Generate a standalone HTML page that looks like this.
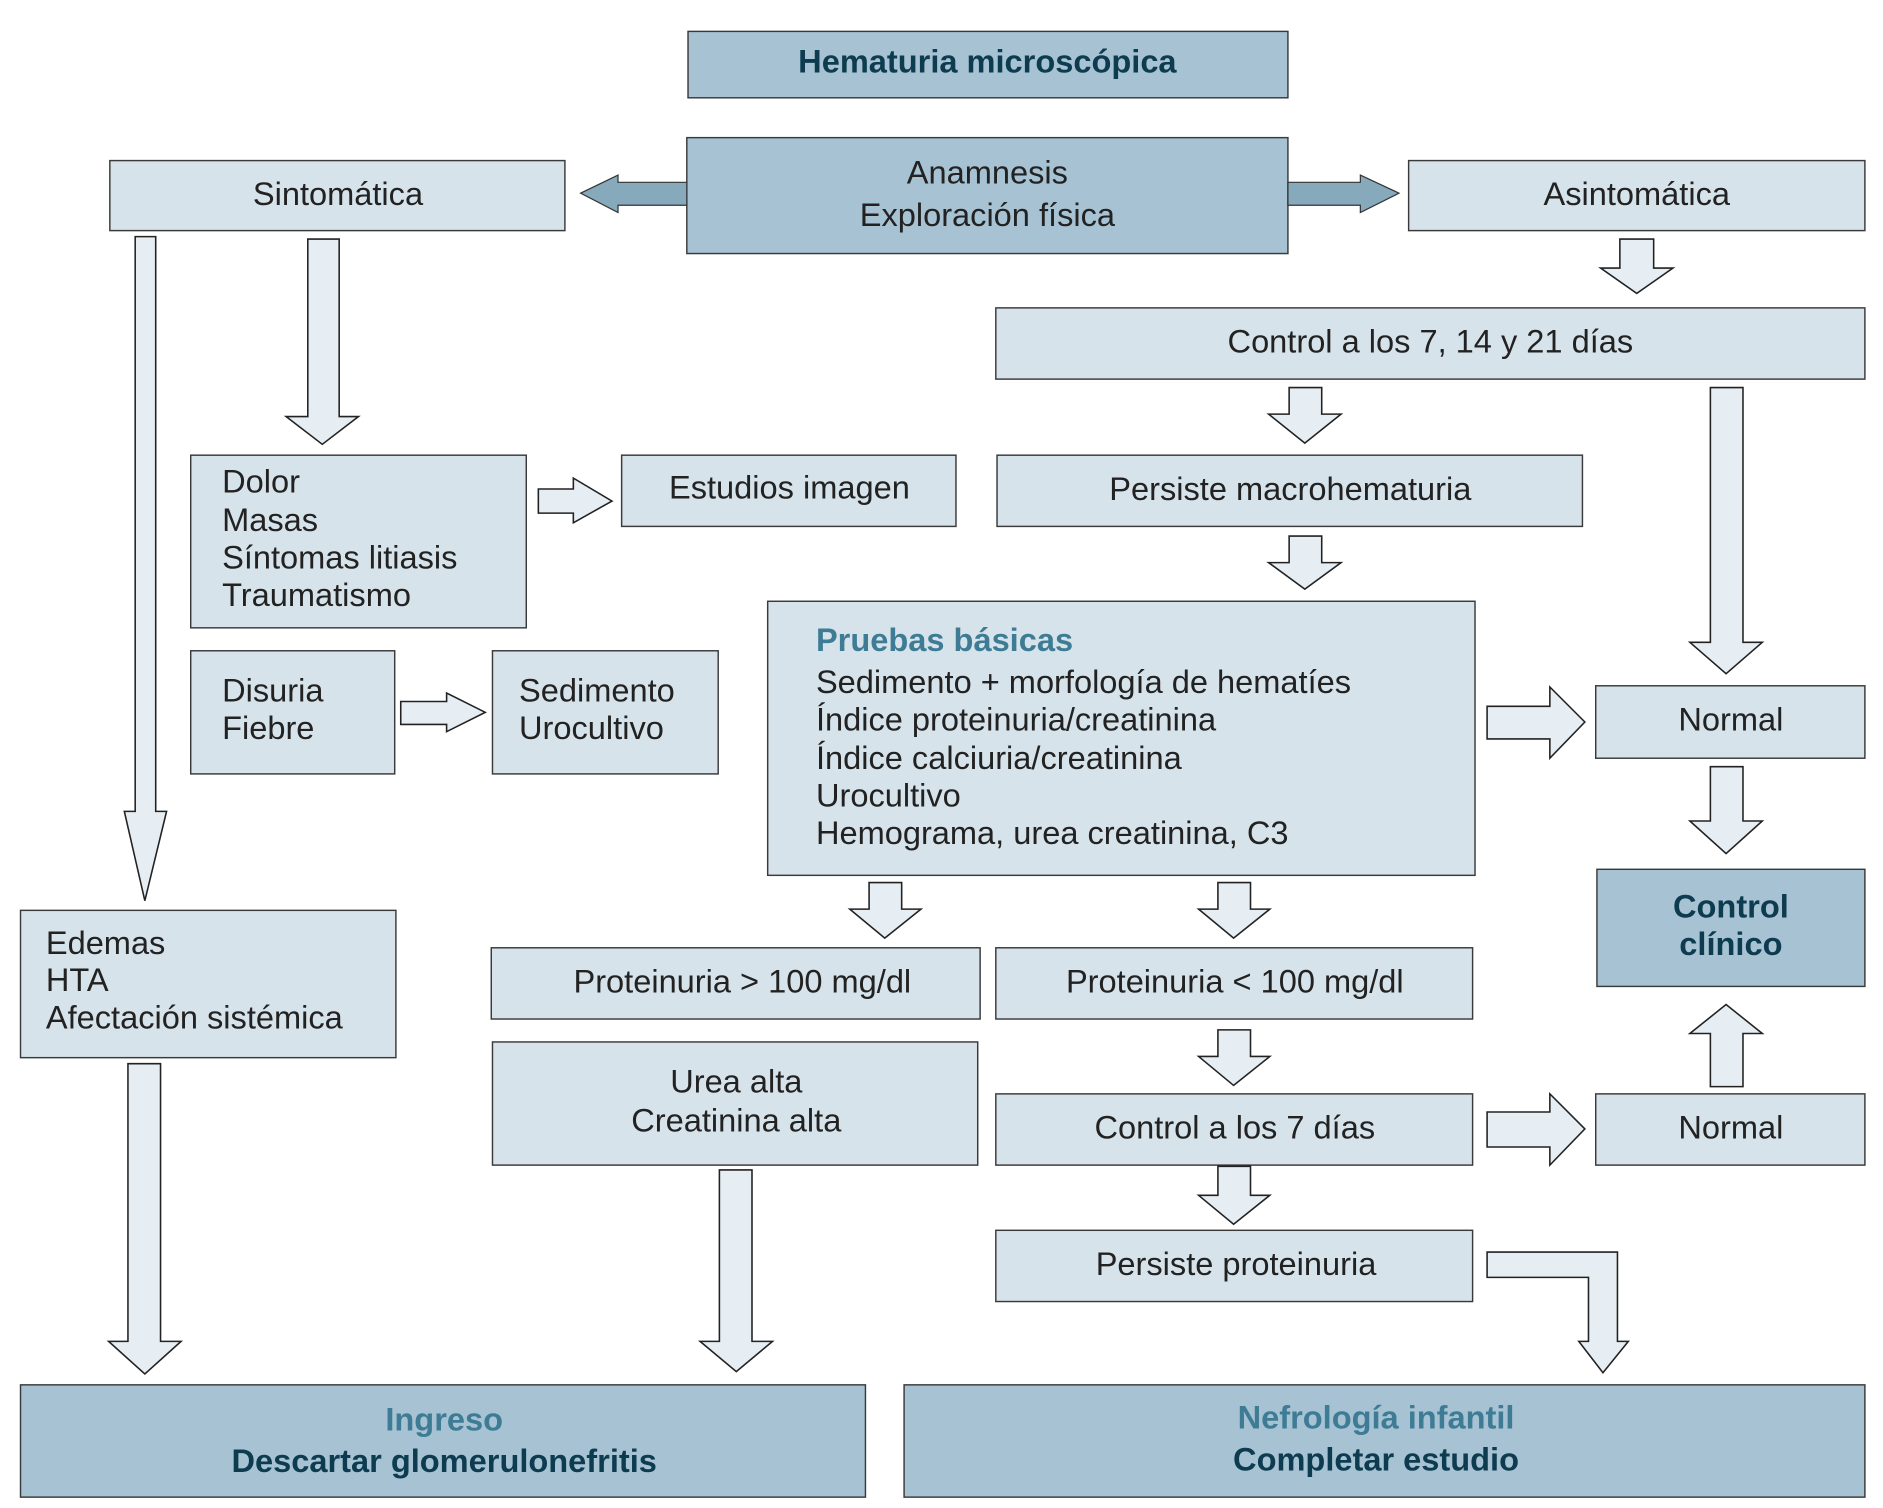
<!DOCTYPE html>
<html><head><meta charset="utf-8"><style>
html,body{margin:0;padding:0;background:#fff;}
svg{display:block;}
text{font-family:"Liberation Sans Narrow","Liberation Sans",sans-serif;font-size:27px;fill:#222;}
.b{font-weight:bold;fill:#0d3b4f;}
.t{font-weight:bold;fill:#3e7c95;}
</style></head><body>
<svg width="1883" height="1508" viewBox="0 0 1560 1249" preserveAspectRatio="none" xmlns="http://www.w3.org/2000/svg">
<g stroke="#3a3a3a" stroke-width="1.2">
<rect x="570" y="26" width="497" height="55" fill="#a7c3d3"/>
<rect x="569" y="114" width="498" height="96" fill="#a7c3d3"/>
<rect x="91" y="133" width="377" height="58" fill="#d6e3ea"/>
<rect x="1167" y="133" width="378" height="58" fill="#d6e3ea"/>
<rect x="825" y="255" width="720" height="59" fill="#d6e3ea"/>
<rect x="158" y="377" width="278" height="143" fill="#d6e3ea"/>
<rect x="515" y="377" width="277" height="59" fill="#d6e3ea"/>
<rect x="826" y="377" width="485" height="59" fill="#d6e3ea"/>
<rect x="158" y="539" width="169" height="102" fill="#d6e3ea"/>
<rect x="408" y="539" width="187" height="102" fill="#d6e3ea"/>
<rect x="636" y="498" width="586" height="227" fill="#d6e3ea"/>
<rect x="1322" y="568" width="223" height="60" fill="#d6e3ea"/>
<rect x="1323" y="720" width="222" height="97" fill="#a7c3d3"/>
<rect x="17" y="754" width="311" height="122" fill="#d6e3ea"/>
<rect x="407" y="785" width="405" height="59" fill="#d6e3ea"/>
<rect x="825" y="785" width="395" height="59" fill="#d6e3ea"/>
<rect x="408" y="863" width="402" height="102" fill="#d6e3ea"/>
<rect x="825" y="906" width="395" height="59" fill="#d6e3ea"/>
<rect x="1322" y="906" width="223" height="59" fill="#d6e3ea"/>
<rect x="825" y="1019" width="395" height="59" fill="#d6e3ea"/>
<rect x="17" y="1147" width="700" height="93" fill="#a7c3d3"/>
<rect x="749" y="1147" width="796" height="93" fill="#a7c3d3"/>
</g>
<g stroke="#222" stroke-width="1.3" fill="#e6eef3" stroke-linejoin="miter">
<!-- down arrows -->
<path d="M255 198H281V345H297L267 368L237 345H255Z"/>
<path d="M112 196H129V672H138L120 746L103 672H112Z"/>
<path d="M1342 198H1370V222H1386L1356 243L1326 222H1342Z"/>
<path d="M1068 321H1095V343H1111L1081 367L1051 343H1068Z"/>
<path d="M1068 444H1095V466H1111L1081 488L1051 466H1068Z"/>
<path d="M1417 321H1444V532H1460L1430 558L1400 532H1417Z"/>
<path d="M1417 635H1444V680H1460L1430 707L1400 680H1417Z"/>
<path d="M720 731H747V753H763L733 777L704 753H720Z"/>
<path d="M1009 731H1036V753H1052L1022 777L993 753H1009Z"/>
<path d="M1009 853H1036V875H1052L1022 899L993 875H1009Z"/>
<path d="M1009 966H1036V990H1052L1022 1014L993 990H1009Z"/>
<path d="M106 881H133V1111H150L120 1138L90 1111H106Z"/>
<path d="M596 969H623V1111H640L610 1136L580 1111H596Z"/>
<!-- up arrow -->
<path d="M1417 900H1444V856H1460L1430 832L1400 856H1417Z"/>
<!-- right arrows -->
<path d="M446 405H475V396L507 415L475 433V425H446Z"/>
<path d="M332 581H370V574L402 590L370 606V600H332Z"/>
<path d="M1232 585H1284V569L1313 598L1284 628V612H1232Z"/>
<path d="M1232 921H1284V906L1313 935L1284 965V950H1232Z"/>
<!-- elbow -->
<path d="M1232 1037H1340V1111H1349L1328 1137L1308 1111H1316V1058H1232Z"/>
</g>
<g stroke="#333" stroke-width="1" fill="#86a9bb">
<path d="M569 151H512V145L481 160L512 176V170H569Z"/>
<path d="M1067 151H1127V145L1159 160L1127 176V170H1067Z"/>
</g>
<g text-anchor="middle">
<text x="818" y="60" class="b">Hematuria microscópica</text>
<text x="818" y="152">Anamnesis</text>
<text x="818" y="187">Exploración física</text>
<text x="280" y="170">Sintomática</text>
<text x="1356" y="170">Asintomática</text>
<text x="1185" y="292">Control a los 7, 14 y 21 días</text>
<text x="654" y="413">Estudios imagen</text>
<text x="1069" y="414">Persiste macrohematuria</text>
<text x="1434" y="605">Normal</text>
<text x="1434" y="760" class="b">Control</text>
<text x="1434" y="791" class="b">clínico</text>
<text x="615" y="822">Proteinuria &gt; 100 mg/dl</text>
<text x="1023" y="822">Proteinuria &lt; 100 mg/dl</text>
<text x="610" y="905">Urea alta</text>
<text x="610" y="937">Creatinina alta</text>
<text x="1023" y="943">Control a los 7 días</text>
<text x="1434" y="943">Normal</text>
<text x="1024" y="1056">Persiste proteinuria</text>
<text x="368" y="1185" class="t">Ingreso</text>
<text x="368" y="1219" class="b">Descartar glomerulonefritis</text>
<text x="1140" y="1183" class="t">Nefrología infantil</text>
<text x="1140" y="1218" class="b">Completar estudio</text>
</g>
<g>
<text x="184" y="408">Dolor</text>
<text x="184" y="440">Masas</text>
<text x="184" y="471">Síntomas litiasis</text>
<text x="184" y="502">Traumatismo</text>
<text x="184" y="581">Disuria</text>
<text x="184" y="612">Fiebre</text>
<text x="430" y="581">Sedimento</text>
<text x="430" y="612">Urocultivo</text>
<text x="676" y="539" class="t">Pruebas básicas</text>
<text x="676" y="574">Sedimento + morfología de hematíes</text>
<text x="676" y="605">Índice proteinuria/creatinina</text>
<text x="676" y="637">Índice calciuria/creatinina</text>
<text x="676" y="668">Urocultivo</text>
<text x="676" y="699">Hemograma, urea creatinina, C3</text>
<text x="38" y="790">Edemas</text>
<text x="38" y="821">HTA</text>
<text x="38" y="852">Afectación sistémica</text>
</g>
</svg>
</body></html>
